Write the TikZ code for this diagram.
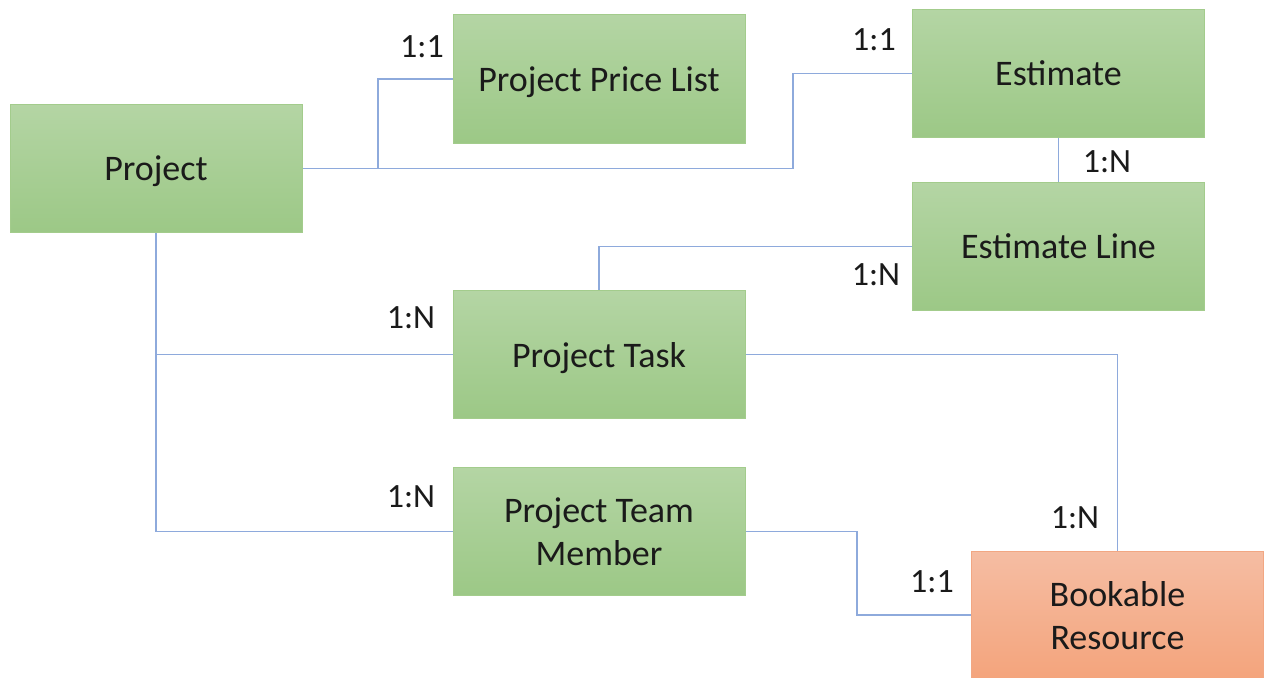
\documentclass[tikz,border=0pt]{standalone}
\usepackage{fontspec}
\setmainfont{Carlito}
\definecolor{greentop}{HTML}{B4D5A4}
\definecolor{greenbot}{HTML}{9CC886}
\definecolor{greenedge}{HTML}{A3CC8C}
\definecolor{orangetop}{HTML}{F5BDA3}
\definecolor{orangebot}{HTML}{F4A47C}
\definecolor{orangeedge}{HTML}{F2A783}
\definecolor{linkblue}{HTML}{8EAADC}
\definecolor{ink}{HTML}{1A1A1A}
\begin{document}
\begin{tikzpicture}[x=1pt,y=-1pt,
  entity/.style={rectangle, minimum width=292pt, minimum height=128pt,
    inner sep=0pt, align=center, text=ink, text depth=0pt,
    font=\fontsize{36}{43}\selectfont,
    draw=greenedge, line width=1pt, top color=greentop, bottom color=greenbot},
  hotentity/.style={entity, draw=orangeedge, top color=orangetop, bottom color=orangebot},
  link/.style={draw=linkblue, line width=1.6pt},
  card/.style={inner sep=0pt, text=ink, font=\fontsize{34}{40}\selectfont}]
\useasboundingbox (0,0) rectangle (1271,677);
\clip (0,0) rectangle (1271,677);

% entities
\node[entity] (proj) at (156,168.5) {Project};
\node[entity] (ppl)  at (599,79)    {Project Price List};
\node[entity] (est)  at (1058.5,73.5) {Estimate};
\node[entity] (el)   at (1058.5,246.5) {Estimate Line};
\node[entity] (pt)   at (599,354.5) {Project Task};
\node[entity] (ptm)  at (599,531.5) {Project Team\\Member};
\node[hotentity] (br) at (1117.5,615) {Bookable\\Resource};

% junction points on shared trunks
\coordinate (j1) at (378,168.5);
\coordinate (j2) at (156,354.5);

% relationships
\draw[link] (proj.east) -| ([xshift=-119pt]est.west) -- (est.west);
\draw[link] (j1) |- (ppl.west);
\draw[link] (est.south) -- (el.north);
\draw[link] (el.west) -| (pt.north);
\draw[link] (proj.south) |- (ptm.west);
\draw[link] (j2) -- (pt.west);
\draw[link] (pt.east) -| (br.north);
\draw[link] (ptm.east) -| ([xshift=-114pt]br.west) -- (br.west);

% cardinalities
\node[card] (c1) at (422,47)   {1:1};
\node[card] (c2) at (874,40)   {1:1};
\node[card] (c3) at (1107,162) {1:N};
\node[card] (c4) at (876,275)  {1:N};
\node[card] (c5) at (411,318)  {1:N};
\node[card] (c6) at (411,497)  {1:N};
\node[card] (c7) at (1075,518) {1:N};
\node[card] (c8) at (932,582)  {1:1};
\end{tikzpicture}
\end{document}
